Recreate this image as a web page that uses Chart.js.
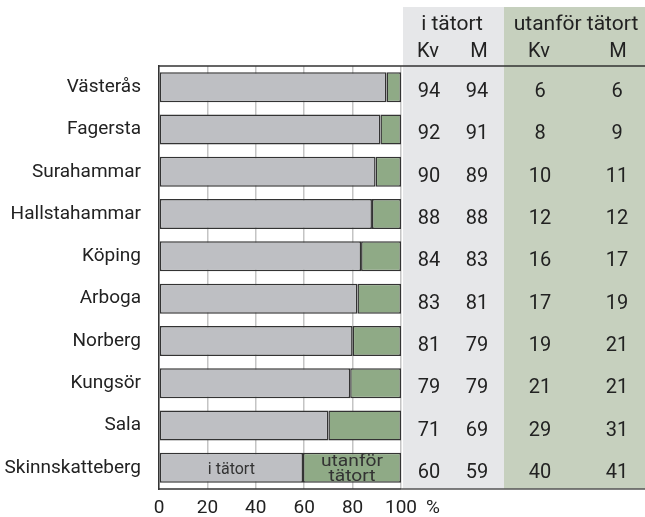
<!DOCTYPE html>
<html>
<head>
<meta charset="utf-8">
<script src="https://cdn.jsdelivr.net/npm/chart.js@4"></script>
<style>
  html, body { margin: 0; padding: 0; background: #fff; }
  #wrap { width: 645px; height: 517px; }
</style>
</head>
<body>
<div id="wrap"><canvas id="chart"></canvas></div>
<script>
// municipalities, top to bottom
const kommuner = ['Västerås', 'Fagersta', 'Surahammar', 'Hallstahammar', 'Köping',
  'Arboga', 'Norberg', 'Kungsör', 'Sala', 'Skinnskatteberg'];
// bar lengths (both sexes)
const tatortTotal = [94, 91.5, 89.5, 88, 83.5, 82, 80, 79, 70, 59.5];
const utanforTotal = [6, 8.5, 10.5, 12, 16.5, 18, 20, 21, 30, 40.5];
// table columns
const tatortKv = [94, 92, 90, 88, 84, 83, 81, 79, 71, 60];
const tatortM = [94, 91, 89, 88, 83, 81, 79, 79, 69, 59];
const utanforKv = [6, 8, 10, 12, 16, 17, 19, 21, 29, 40];
const utanforM = [6, 9, 11, 12, 17, 19, 21, 21, 31, 41];

const FONT = 'Roboto, "Noto Sans", sans-serif';
const TXT = '#222';

// grey/green table behind the right side, header, and frame lines
const tablePlugin = {
  id: 'table',
  beforeDraw(chart) {
    const c = chart.ctx, a = chart.chartArea;
    c.save();
    c.fillStyle = '#e6e7e9';
    c.fillRect(403, 7, 101, a.bottom - 7);
    c.fillStyle = '#c6d0be';
    c.fillRect(504, 7, 141, a.bottom - 7);
    c.restore();
  },
  afterDraw(chart) {
    const c = chart.ctx, a = chart.chartArea, y = chart.scales.y;
    c.save();
    // frame lines
    c.strokeStyle = '#333';
    c.lineWidth = 1.5;
    c.beginPath();
    c.moveTo(a.left, a.top); c.lineTo(645, a.top);
    c.moveTo(a.left, a.bottom); c.lineTo(a.right, a.bottom);
    c.stroke();
    c.strokeStyle = '#555';
    c.beginPath();
    c.moveTo(a.right, a.bottom); c.lineTo(645, a.bottom);
    c.stroke();

    c.fillStyle = TXT;
    c.textAlign = 'center';
    c.textBaseline = 'middle';
    c.font = '21px ' + FONT;
    c.fillText('i tätort', 452, 25);
    c.fillText('utanför tätort', 576, 25);
    c.font = '20px ' + FONT;
    c.fillText('Kv', 428, 52);
    c.fillText('M', 479, 52);
    c.fillText('Kv', 539, 52);
    c.fillText('M', 618, 52);

    c.font = '20px ' + FONT;
    kommuner.forEach((k, i) => {
      const py = y.getPixelForValue(i) + 5;
      c.fillText(tatortKv[i], 429, py);
      c.fillText(tatortM[i], 477, py);
      c.fillText(utanforKv[i], 540, py);
      c.fillText(utanforM[i], 617, py);
    });

    // unit after the last tick
    c.font = '19px ' + FONT;
    c.fillText('%', 433, 508);

    // labels inside the last bar
    const last = kommuner.length - 1;
    const b0 = chart.getDatasetMeta(0).data[last];
    const b1 = chart.getDatasetMeta(1).data[last];
    c.fillStyle = '#333';
    c.font = '16px ' + FONT;
    c.fillText('i tätort', (b0.base + b0.x) / 2, b0.y + 2);
    const cx = (b1.base + b1.x) / 2;
    c.translate(cx, b1.y);
    c.scale(1.2, 1);
    c.fillText('utanför', 0, -6);
    c.fillText('tätort', 0, 9);
    c.restore();
  }
};

new Chart(document.getElementById('chart'), {
  type: 'bar',
  data: {
    labels: kommuner,
    datasets: [{
      label: 'i tätort',
      data: tatortTotal,
      backgroundColor: '#bebfc3',
      borderColor: '#333',
      borderWidth: 1.5,
      borderSkipped: false
    }, {
      label: 'utanför tätort',
      data: utanforTotal,
      backgroundColor: '#8faa86',
      borderColor: '#333',
      borderWidth: 1.5,
      borderSkipped: false
    }]
  },
  options: {
    indexAxis: 'y',
    responsive: true,
    maintainAspectRatio: false,
    animation: false,
    categoryPercentage: 1,
    barPercentage: 0.71,
    layout: { padding: { top: 66, right: 244, left: 0, bottom: 0 } },
    plugins: {
      legend: { display: false },
      tooltip: { enabled: false }
    },
    scales: {
      x: {
        stacked: true,
        min: 0,
        max: 100,
        ticks: { stepSize: 20, color: TXT, font: { family: FONT, size: 19 }, padding: 8 },
        grid: { color: '#c4c4c4', lineWidth: 1.5, drawTicks: false },
        border: { display: false },
        afterFit: s => { s.height = 28; }
      },
      y: {
        stacked: true,
        ticks: { color: TXT, font: { family: FONT, size: 19 }, padding: 10 },
        grid: { display: false },
        border: { display: true, color: '#333', width: 1.5 },
        afterFit: s => { s.width = 159; }
      }
    }
  },
  plugins: [tablePlugin]
});
</script>
</body>
</html>
